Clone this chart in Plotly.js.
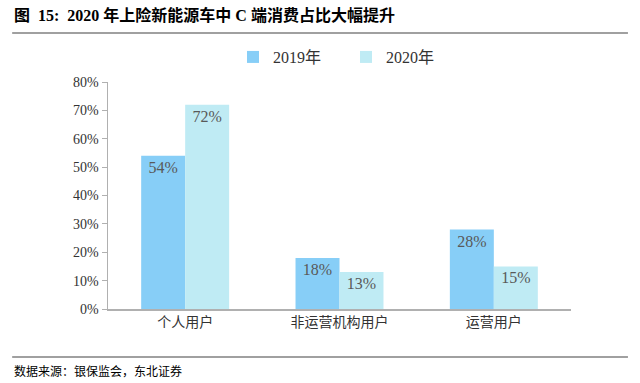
<!DOCTYPE html>
<html><head><meta charset="utf-8">
<script src="https://cdn.plot.ly/plotly-3.0.1.min.js"></script>
<style>html,body{margin:0;padding:0;background:#fff;}</style>
</head><body>
<div id="chart" style="width:640px;height:383px;"></div>
<script>
const categories = ["个人用户", "非运营机构用户", "运营用户"];
const seriesNames = ["2019年", "2020年"];
const values2019 = [0.54, 0.18, 0.28];
const values2020 = [0.72, 0.13, 0.15];
const yTickVals = [0, 0.1, 0.2, 0.3, 0.4, 0.5, 0.6, 0.7, 0.8];
const yTickText = ["0%", "10%", "20%", "30%", "40%", "50%", "60%", "70%", "80%"];

const serif = "Liberation Serif, Times New Roman, serif";
const cjk = "Noto Sans CJK SC, sans-serif";
const colors = ["#87CEF7", "#BFEBF4"];

function pct(v){ return Math.round(v*100) + "%"; }

const traces = [values2019, values2020].map((vals, i) => ({
  type: "bar",
  name: seriesNames[i],
  x: categories,
  y: vals,
  marker: {color: colors[i], line: {width: 0}},
  text: vals.map(pct),
  textposition: "inside",
  insidetextanchor: "end",
  textfont: {family: serif, size: 16, color: "#595959"},
  hoverinfo: "none"
}));

const layout = {
  width: 640, height: 383,
  margin: {l: 108, r: 69, t: 82, b: 74},
  paper_bgcolor: "#fff", plot_bgcolor: "#fff",
  barmode: "group",
  bargap: 0.43, bargroupgap: 0,
  showlegend: true,
  legend: {orientation: "h", x: 0.27, y: 1.11, xanchor: "left", yanchor: "middle",
           font: {family: serif + ", " + cjk, size: 16, color: "#333"},
           itemwidth: 30, entrywidth: 68, entrywidthmode: "pixels",
           tracegroupgap: 0, bgcolor: "rgba(0,0,0,0)"},
  xaxis: {
    showline: true, linecolor: "#B0B0B0", linewidth: 1.5,
    ticks: "", showgrid: false, zeroline: false,
    tickfont: {family: cjk, size: 14, color: "#333"}
  },
  yaxis: {
    range: [0, 0.8], tickvals: yTickVals, ticktext: yTickText,
    showline: true, linecolor: "#B0B0B0", linewidth: 1.5,
    ticks: "outside", ticklen: 5, tickcolor: "#B0B0B0",
    showgrid: false, zeroline: false,
    tickfont: {family: serif, size: 14, color: "#333"}
  },
  shapes: [
    {type: "line", xref: "paper", yref: "paper", x0: -0.207, x1: 1.123, y0: 1.216, y1: 1.216,
     line: {color: "#808080", width: 1.5}},
    {type: "line", xref: "paper", yref: "paper", x0: -0.207, x1: 1.123, y0: -0.211, y1: -0.211,
     line: {color: "#808080", width: 1.5}}
  ],
  annotations: [
    {xref: "paper", yref: "paper", x: -0.207, y: 1.295, xanchor: "left", yanchor: "middle",
     showarrow: false, text: "<b>图  15:  2020 年上险新能源车中 C 端消费占比大幅提升</b>",
     font: {family: serif + ", " + cjk, size: 16, color: "#000"}},
    {xref: "paper", yref: "paper", x: -0.207, y: -0.27, xanchor: "left", yanchor: "middle",
     showarrow: false, text: "数据来源：银保监会，东北证券",
     font: {family: cjk, size: 12, color: "#000"}}
  ]
};

Plotly.newPlot("chart", traces, layout, {displayModeBar: false, staticPlot: true});
</script>
</body></html>
